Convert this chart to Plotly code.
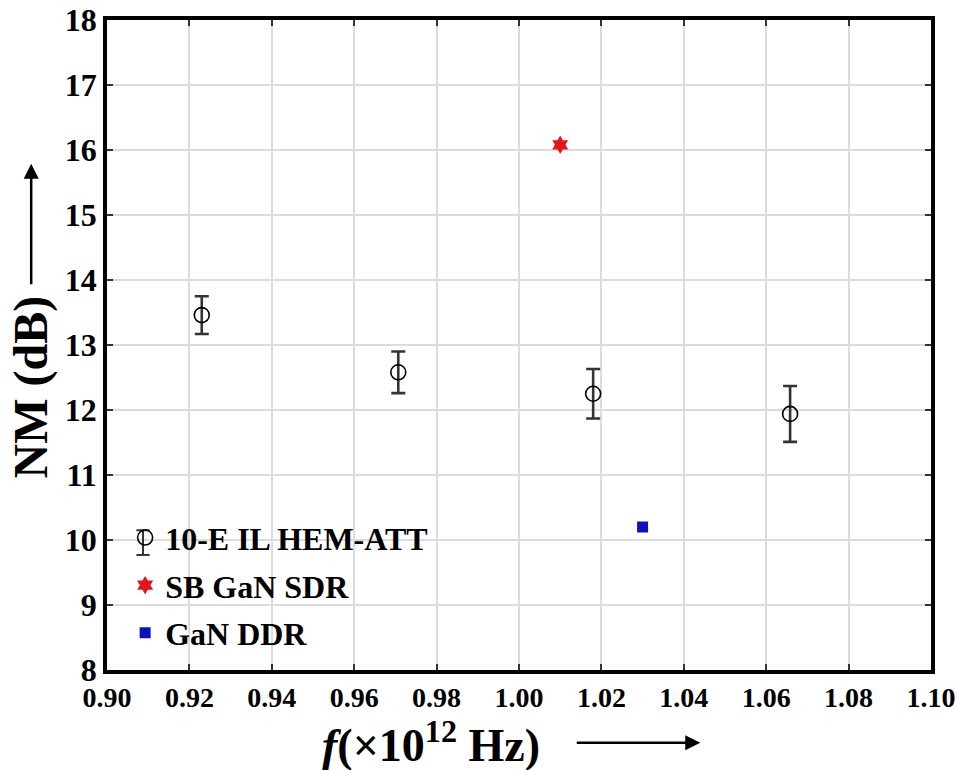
import plotly.graph_objects as go

# Data
hem_x = [0.923, 0.9707, 1.018, 1.0658]
hem_y = [13.46, 12.58, 12.25, 11.94]
hem_err = [0.29, 0.32, 0.38, 0.43]

sdr_x = [1.010]
sdr_y = [16.08]

ddr_x = [1.030]
ddr_y = [10.2]

names = ["10-E IL HEM-ATT", "SB GaN SDR", "GaN DDR"]
x_ticks = [0.90, 0.92, 0.94, 0.96, 0.98, 1.00, 1.02, 1.04, 1.06, 1.08, 1.10]
y_ticks = list(range(8, 19))

FONT = "Liberation Serif"

fig = go.Figure()
fig.add_trace(go.Scatter(
    x=hem_x, y=hem_y, mode="markers", name=names[0], legendgroup="a",
    marker=dict(symbol="circle-open", size=15, color="black", line=dict(width=1.6, color="#222")),
    error_y=dict(type="data", array=hem_err, visible=True, color="#333", thickness=2.6, width=7),
))
fig.add_trace(go.Scatter(
    x=sdr_x, y=sdr_y, mode="markers", name=names[1], legendgroup="b",
    marker=dict(symbol="hexagram", size=14, color="#e0161c", line=dict(width=0)),
))
fig.add_trace(go.Scatter(
    x=ddr_x, y=ddr_y, mode="markers", name=names[2], legendgroup="c",
    marker=dict(symbol="square", size=11, color="#0a12b8", line=dict(width=0)),
))

axis_common = dict(
    showline=True, linecolor="black", linewidth=3.5, mirror="ticks",
    ticks="inside", ticklen=6, tickwidth=2, tickcolor="#333",
    showgrid=True, gridcolor="#dcdcdc", gridwidth=1.6, zeroline=False,
    automargin=False,
)
fig.update_xaxes(range=[0.90, 1.10], tickvals=x_ticks, tickformat=".2f",
                 tickfont=dict(family=FONT, size=28, color="black", weight="bold"),
                 **axis_common)
fig.update_yaxes(range=[8, 18], tickvals=y_ticks,
                 tickfont=dict(family=FONT, size=32, color="black", weight="bold"),
                 **axis_common)

# legend error-bar glyph (decoration on the legend symbol)
lx, ly = 0.0437, 0.196
glyph = [
    dict(type="line", xref="paper", yref="paper", x0=lx, x1=lx, y0=ly - 0.019, y1=ly + 0.019,
         line=dict(color="#333", width=2)),
    dict(type="line", xref="paper", yref="paper", x0=lx - 0.008, x1=lx + 0.008, y0=ly + 0.019, y1=ly + 0.019,
         line=dict(color="#333", width=2)),
    dict(type="line", xref="paper", yref="paper", x0=lx - 0.008, x1=lx + 0.008, y0=ly - 0.019, y1=ly - 0.019,
         line=dict(color="#333", width=2)),
]

fig.update_layout(
    width=957, height=770,
    margin=dict(l=107, r=26, t=20, b=100),
    plot_bgcolor="white", paper_bgcolor="white",
    showlegend=True,
    shapes=glyph,
    legend=dict(x=0.022, y=0.015, xanchor="left", yanchor="bottom",
                bgcolor="rgba(0,0,0,0)", tracegroupgap=3, itemwidth=30,
                font=dict(family=FONT, size=32, color="black", weight="bold")),
    annotations=[
        dict(text="NM (dB)", x=-0.092, y=0.435, xref="paper", yref="paper",
             textangle=-90, showarrow=False, xanchor="center", yanchor="middle",
             font=dict(family=FONT, size=48, color="black", weight="bold")),
        dict(text="", x=-0.092, y=0.779, xref="paper", yref="paper",
             showarrow=True, ax=0, ay=122, arrowhead=2, arrowsize=1.2, arrowwidth=2.5,
             arrowcolor="black"),
        dict(text="<i>f</i>(×10<sup>12</sup> Hz)", x=0.393, y=-0.11, xref="paper", yref="paper",
             showarrow=False, xanchor="center", yanchor="middle",
             font=dict(family=FONT, size=46, color="black", weight="bold")),
        dict(text="", x=0.72, y=-0.112, xref="paper", yref="paper",
             showarrow=True, ax=-125, ay=0, arrowhead=2, arrowsize=1.2, arrowwidth=2.5,
             arrowcolor="black"),
    ],
)

fig.write_html("out.html")
